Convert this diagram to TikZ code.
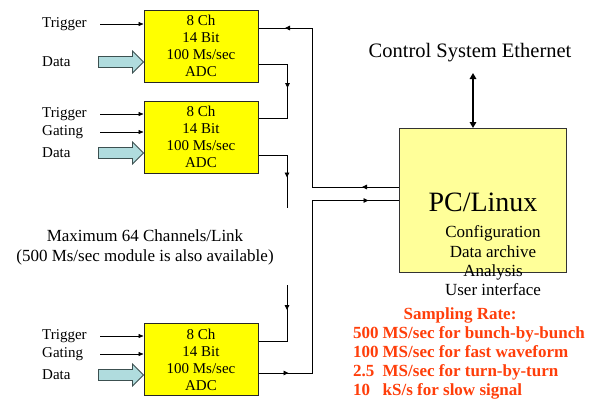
\documentclass[tikz,border=0pt]{standalone}
\usepackage{fontspec}
\setmainfont{Liberation Serif}
\usetikzlibrary{arrows.meta,decorations.markings,calc}
\definecolor{adcyellow}{RGB}{255,255,0}
\definecolor{pcyellow}{RGB}{255,255,153}
\definecolor{datafill}{RGB}{176,220,222}
\definecolor{dataline}{RGB}{60,80,80}
\definecolor{ratered}{RGB}{255,62,10}
\tikzset{
 adc/.style={draw=black!85, line width=1pt, fill=adcyellow, minimum width=114pt, minimum height=72pt, inner sep=0pt, align=center, font=\fontsize{15}{17}\selectfont},
 pcbox/.style={draw=black!80, line width=1pt, fill=pcyellow, minimum width=167pt, minimum height=144pt, inner sep=0pt},
 lbl/.style={anchor=west, inner sep=0pt, font=\fontsize{15}{17}\selectfont},
 inarr/.style={line width=0.6pt, -{Triangle[length=5pt,width=4pt]}},
 conn/.style={line width=0.9pt},
 marr/.style={postaction={decorate, decoration={markings, mark=at position #1 with {\arrow{Triangle[length=5pt,width=4.5pt]}}}}},
 dataarr/.style={fill=datafill, draw=dataline, line width=0.8pt},
 rate/.style={anchor=base west, inner sep=0pt, text=ratered, font=\bfseries\fontsize{17}{19}\selectfont},
}
\begin{document}
\begin{tikzpicture}[x=1pt,y=-1pt]
\useasboundingbox (0,0) rectangle (594,400);
% ADC boxes
\node[adc] (b1) at (201,46) {8 Ch\\14 Bit\\100 Ms/sec\\ADC};
\node[adc] (b2) at (201,137) {8 Ch\\14 Bit\\100 Ms/sec\\ADC};
\node[adc] (b3) at (201,359.5) {8 Ch\\14 Bit\\100 Ms/sec\\ADC};
% PC box
\node[pcbox] (pc) at (483,200.5) {};
\node[font=\fontsize{28}{30}\selectfont, inner sep=0pt] (pct) at (483,202) {PC/Linux};
\node[align=center, font=\fontsize{17}{19.3}\selectfont, inner sep=0pt] (pcsub) at (493,261) {Configuration\\Data archive\\Analysis\\User interface};
% input labels
\node[lbl] (tg1) at (42,24) {Trigger};
\node[lbl] (d1) at (42,62) {Data};
\node[lbl] (tg2) at (42,114) {Trigger};
\node[lbl] (g2) at (42,132) {Gating};
\node[lbl] (d2) at (42,153) {Data};
\node[lbl] (tg3) at (42,336) {Trigger};
\node[lbl] (g3) at (42,354) {Gating};
\node[lbl] (d3) at (42,375) {Data};
% thin input arrows
\draw[inarr] (100,24) -- (b1.west |- 0,24);
\draw[inarr] (100,114) -- (b2.west |- 0,114);
\draw[inarr] (100,132) -- (b2.west |- 0,132);
\draw[inarr] (100,336) -- (b3.west |- 0,336);
\draw[inarr] (100,354) -- (b3.west |- 0,354);
% data block arrows
\draw[dataarr] (b1.west |- 0,62) -- ++(-11,-11) -- ++(0,5.5) -- ++(-34,0) -- ++(0,11) -- ++(34,0) -- ++(0,5.5) -- cycle;
\draw[dataarr] (b2.west |- 0,153) -- ++(-11,-11) -- ++(0,5.5) -- ++(-34,0) -- ++(0,11) -- ++(34,0) -- ++(0,5.5) -- cycle;
\draw[dataarr] (b3.west |- 0,375) -- ++(-11,-11) -- ++(0,5.5) -- ++(-34,0) -- ++(0,11) -- ++(34,0) -- ++(0,5.5) -- cycle;
% connectors
\draw[conn, marr=37pt, marr=273pt] ([yshift=13.5pt]pc.west) -- ++(-87,0) |- ([yshift=18pt]b1.east);
\draw[conn, marr=53pt] ([yshift=-18pt]b1.east) -- ++(29,0) |- ([yshift=19pt]b2.east);
\coordinate (e1) at (287,208);
\draw[conn, marr=51pt] ([yshift=-18pt]b2.east) -| (e1);
\coordinate (e2) at (287,285);
\draw[conn, marr=25pt] (e2) |- ([yshift=18.5pt]b3.east);
\draw[conn, marr=30pt, marr=282.5pt] ([yshift=-13.5pt]b3.east) -| ($(pc.west)+(-87,0)$) -- (pc.west);
% ethernet
\coordinate (eth) at (473,73);
\draw[line width=2.2pt, {Triangle[length=6pt,width=6.5pt]}-{Triangle[length=6pt,width=6.5pt]}] (eth) -- (eth |- pc.north);
\node[font=\fontsize{20.5}{22}\selectfont, inner sep=0pt] (ethl) at (470,53) {Control System Ethernet};
% note
\node[align=center, font=\fontsize{17}{20}\selectfont, inner sep=0pt] (maxl) at (145,247) {Maximum 64 Channels/Link\\(500 Ms/sec module is also available)};
% sampling rate
\node[anchor=base, inner sep=0pt, text=ratered, font=\bfseries\fontsize{17}{19}\selectfont] (srt) at (460,319.6) {Sampling Rate:};
\node[rate] (sr1) at (353,338.6) {\makebox[29.5pt][l]{500}MS/sec for bunch-by-bunch};
\node[rate] (sr2) at (353,357.6) {\makebox[29.5pt][l]{100}MS/sec for fast waveform};
\node[rate] (sr3) at (353,376.6) {\makebox[29.5pt][l]{2.5}MS/sec for turn-by-turn};
\node[rate] (sr4) at (353,395.6) {\makebox[29.5pt][l]{10}kS/s for slow signal};
\end{tikzpicture}
\end{document}
